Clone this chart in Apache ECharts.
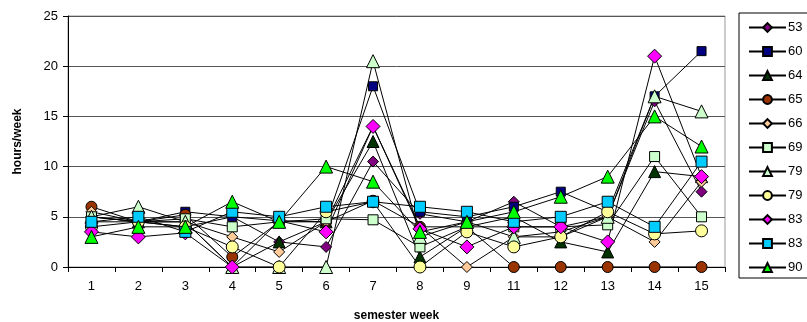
<!DOCTYPE html>
<html>
<head>
<meta charset="utf-8">
<script src="https://cdn.jsdelivr.net/npm/echarts@6/dist/echarts.min.js"></script>
<style>
  html, body { margin: 0; padding: 0; background: #fff; }
  #show { width: 807px; height: 322px; }
</style>
</head>
<body>
<div id="show"></div>
<script>
var myChart = echarts.init(document.getElementById("show"));

// semester weeks (no week 10)
var weeks = ['1', '2', '3', '4', '5', '6', '7', '8', '9', '11', '12', '13', '14', '15'];

var s53  = [5, 4.5, 4, 5, 2.5, 2, 10.5, 5.3, 4.5, 6.5, 4, 5, 16.5, 7.5];
var s60  = [5, 4.5, 5.5, 5, 4.6, 4.5, 18, 5.5, 5, 6, 7.5, 5.5, 17, 21.5];
var s64  = [4.5, 4.5, 4.5, 0, 2.5, 4.5, 12.5, 1, 4, 5, 2.5, 1.5, 9.5, 9];
var s65  = [6, 4.5, 5.2, 1, 4.5, 4.5, 6.6, 4, 4, 0, 0, 0, 0, 0];
var s66  = [5.5, 4.5, 4.5, 3, 1.5, 4.5, 14, 4, 0, 3, 3, 5, 2.5, 8.5];
var s69  = [5, 4.5, 4.8, 4, 4.5, 4.8, 4.7, 2, 4, 4, 4, 4.2, 11, 5];
var s79a = [5, 6, 4.5, 0, 0, 0, 20.5, 3, 4.5, 3, 3.5, 5, 17, 15.5];
var s79b = [4, 4.5, 4, 2, 0, 5.5, 6.5, 0, 3.5, 2, 3, 5.5, 3.3, 3.6];
var s83a = [3.5, 3, 3.4, 0, 4.6, 3.5, 14, 3.8, 2, 4, 4, 2.5, 21, 9];
var s83b = [4.5, 5, 3.5, 5.5, 5, 6, 6.5, 6, 5.5, 4.5, 5, 6.5, 4, 10.5];
var s90  = [3, 4, 4, 6.5, 4.5, 10, 8.5, 3.5, 4.5, 5.5, 7, 9, 15, 12];

// name, data, symbol, size, fill
var seriesDefs = [
    ['53', s53, 'diamond', 11, '#800080'],
    ['60', s60, 'rect', 9, '#000080'],
    ['64', s64, 'triangle', 12, '#003300'],
    ['65', s65, 'circle', 11, '#993300'],
    ['66', s66, 'diamond', 11, '#FFCC99'],
    ['69', s69, 'rect', 10, '#CCFFCC'],
    ['79', s79a, 'triangle', 13, '#CCFFCC'],
    ['79 ', s79b, 'circle', 12, '#FFFF99'],
    ['83', s83a, 'diamond', 14, '#FF00FF'],
    ['83 ', s83b, 'rect', 11, '#00CCFF'],
    ['90', s90, 'triangle', 13, '#00FF00']
];

var series = seriesDefs.map(function (d) {
    return {
        name: d[0],
        type: 'line',
        data: d[1],
        symbol: d[2],
        symbolSize: d[3],
        showAllSymbol: true,
        animation: false,
        lineStyle: { color: '#000', width: 1 },
        itemStyle: { color: d[4], borderColor: '#000', borderWidth: 1 }
    };
});

var font = 'Liberation Sans, Arial, sans-serif';

myChart.setOption({
    textStyle: { fontFamily: font },
    grid: {
        left: 68, right: 82, top: 16, bottom: 55,
        outerBoundsMode: 'none',
        show: true, borderColor: '#999', borderWidth: 1
    },
    legend: {
        orient: 'vertical',
        left: 739, top: 13,
        padding: [8, 40, 4, 9],
        itemWidth: 37, itemHeight: 11,
        itemGap: 11,
        backgroundColor: '#fff',
        borderColor: '#000', borderWidth: 1,
        borderRadius: 0,
        textStyle: { fontFamily: font, fontSize: 13, color: '#000', padding: [0, 0, 0, -3] },
        data: seriesDefs.map(function (d) { return d[0]; })
    },
    xAxis: {
        type: 'category',
        data: weeks,
        boundaryGap: true,
        name: 'semester week',
        nameLocation: 'middle',
        nameGap: 43,
        nameTextStyle: { fontFamily: font, fontSize: 12, fontWeight: 'bold', color: '#000' },
        axisLine: { lineStyle: { color: '#000', width: 1 } },
        axisTick: { show: true, inside: false, length: 5, lineStyle: { color: '#000' } },
        axisLabel: { fontFamily: font, fontSize: 13, color: '#000', margin: 13 }
    },
    yAxis: {
        type: 'value',
        min: 0, max: 25, interval: 5,
        name: 'hours/week',
        nameLocation: 'middle',
        nameGap: 44,
        nameTextStyle: { fontFamily: font, fontSize: 12, fontWeight: 'bold', color: '#000' },
        axisLine: { show: true, lineStyle: { color: '#000', width: 1 } },
        axisTick: { show: true, inside: false, length: 5, lineStyle: { color: '#000' } },
        axisLabel: { fontFamily: font, fontSize: 13, color: '#000', margin: 10 },
        splitLine: { show: true, lineStyle: { color: '#555', width: 1 } }
    },
    series: series
});
</script>
</body>
</html>
